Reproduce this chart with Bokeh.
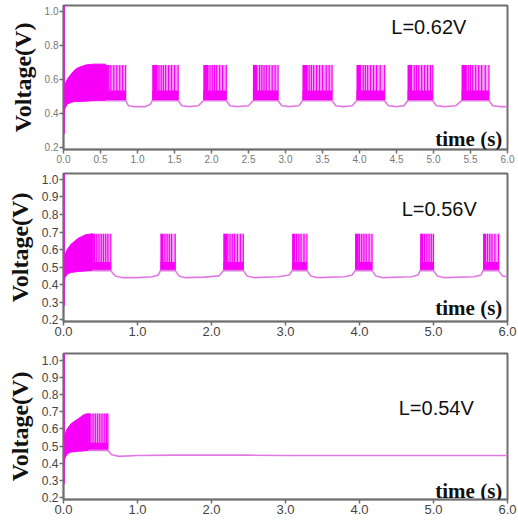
from bokeh.plotting import figure
from bokeh.layouts import column
from bokeh.models import Range1d, FixedTicker, Label, NumeralTickFormatter
from bokeh.embed import file_html
from bokeh.resources import INLINE

# ---------------- data ----------------
levels = ["L=0.62V", "L=0.56V", "L=0.54V"]

# Panel 1 : L = 0.62 V
p1_dense_t = [0.0, 0.02, 0.05, 0.10, 0.15, 0.20, 0.30, 0.40, 0.57]
p1_dense_hi = [0.52, 0.57, 0.60, 0.63, 0.655, 0.67, 0.685, 0.69, 0.69]
p1_dense_lo = [0.38, 0.43, 0.455, 0.465, 0.47, 0.47, 0.472, 0.475, 0.475]
p1_burst_start = [0.57, 1.20, 1.89, 2.56, 3.23, 3.96, 4.65, 5.38]
p1_burst_end = [0.84, 1.55, 2.20, 2.90, 3.63, 4.34, 4.99, 5.75]
p1_block_end = [0.60, 1.27, 1.96, 2.62, 3.30, 4.02, 4.71, 5.45]
p1_spikes = [0.58, 0.61, 0.64, 0.68, 0.72, 0.76, 0.80, 0.84,
             1.29, 1.32, 1.35, 1.38, 1.42, 1.46, 1.50, 1.55,
             1.98, 2.01, 2.04, 2.07, 2.11, 2.15, 2.20,
             2.65, 2.68, 2.71, 2.74, 2.78, 2.82, 2.86, 2.90,
             3.32, 3.35, 3.38, 3.42, 3.46, 3.50, 3.55, 3.59, 3.63,
             4.05, 4.08, 4.11, 4.15, 4.19, 4.23, 4.28, 4.34,
             4.74, 4.77, 4.80, 4.84, 4.88, 4.92, 4.96, 4.99,
             5.47, 5.50, 5.53, 5.57, 5.61, 5.65, 5.70, 5.75]
p1_base_t = [0.57, 0.84, 0.88, 0.95, 1.10, 1.17, 1.20, 1.55, 1.60, 1.70, 1.82, 1.89,
             2.20, 2.25, 2.35, 2.50, 2.56, 2.90, 2.95, 3.05, 3.18, 3.23, 3.63, 3.68,
             3.78, 3.90, 3.96, 4.34, 4.39, 4.50, 4.60, 4.65, 4.99, 5.04, 5.15, 5.30,
             5.38, 5.75, 5.80, 5.90, 6.00]
p1_base_v = [0.475, 0.475, 0.445, 0.44, 0.44, 0.452, 0.475, 0.475, 0.445, 0.44, 0.445, 0.475,
             0.475, 0.445, 0.44, 0.445, 0.475, 0.475, 0.445, 0.44, 0.445, 0.475, 0.475, 0.445,
             0.44, 0.445, 0.475, 0.475, 0.445, 0.44, 0.445, 0.475, 0.475, 0.445, 0.44, 0.445,
             0.475, 0.475, 0.445, 0.44, 0.44]

# Panel 2 : L = 0.56 V
p2_dense_t = [0.0, 0.02, 0.05, 0.10, 0.20, 0.30, 0.39]
p2_dense_hi = [0.54, 0.57, 0.60, 0.63, 0.665, 0.685, 0.69]
p2_dense_lo = [0.39, 0.44, 0.46, 0.47, 0.475, 0.478, 0.48]
p2_burst_start = [0.39, 1.31, 2.16, 3.09, 3.94, 4.82, 5.67]
p2_burst_end = [0.64, 1.51, 2.43, 3.29, 4.17, 5.00, 5.88]
p2_block_end = [0.41, 1.35, 2.21, 3.13, 3.99, 4.86, 5.71]
p2_spikes = [0.42, 0.45, 0.48, 0.51, 0.54, 0.57, 0.60, 0.64,
             1.37, 1.40, 1.43, 1.46, 1.51,
             2.22, 2.25, 2.28, 2.31, 2.35, 2.39, 2.43,
             3.15, 3.18, 3.21, 3.25, 3.29,
             4.00, 4.03, 4.06, 4.09, 4.13, 4.17,
             4.88, 4.91, 4.94, 4.97, 5.00,
             5.73, 5.76, 5.79, 5.83, 5.88]
p2_base_t = [0.39, 0.64, 0.70, 0.80, 1.00, 1.20, 1.28, 1.31, 1.51, 1.56, 1.65, 1.90,
             2.10, 2.16, 2.43, 2.48, 2.58, 2.90, 3.05, 3.09, 3.29, 3.34, 3.44, 3.80,
             3.90, 3.94, 4.17, 4.22, 4.32, 4.70, 4.79, 4.82, 5.00, 5.05, 5.15, 5.55,
             5.64, 5.67, 5.88, 5.93, 6.00]
p2_base_v = [0.48, 0.48, 0.45, 0.44, 0.44, 0.445, 0.455, 0.48, 0.48, 0.45, 0.44, 0.443,
             0.45, 0.48, 0.48, 0.45, 0.44, 0.445, 0.455, 0.48, 0.48, 0.45, 0.44, 0.445,
             0.455, 0.48, 0.48, 0.45, 0.44, 0.445, 0.455, 0.48, 0.48, 0.45, 0.44, 0.445,
             0.455, 0.48, 0.48, 0.45, 0.445]

# Panel 3 : L = 0.54 V
p3_dense_t = [0.0, 0.02, 0.05, 0.10, 0.20, 0.28, 0.34]
p3_dense_hi = [0.55, 0.57, 0.60, 0.63, 0.66, 0.685, 0.69]
p3_dense_lo = [0.39, 0.43, 0.455, 0.465, 0.47, 0.472, 0.475]
p3_burst_start = [0.34]
p3_burst_end = [0.60]
p3_block_end = [0.36]
p3_spikes = [0.37, 0.40, 0.43, 0.46, 0.49, 0.52, 0.55, 0.58, 0.60]
p3_base_t = [0.34, 0.60, 0.65, 0.75, 1.00, 1.50, 2.50, 3.00, 6.00]
p3_base_v = [0.475, 0.475, 0.45, 0.44, 0.445, 0.447, 0.447, 0.445, 0.445]

# onset transient (vertical line at the very start) and spike levels
onset_v = [0.28, 1.05]
spike_top = [0.685, 0.69, 0.69]
spike_bottom = [0.475, 0.48, 0.475]
band_top = [0.535, 0.53, 0.52]

# axis ticks
x_ticks_fine = [0.0, 0.5, 1.0, 1.5, 2.0, 2.5, 3.0, 3.5, 4.0, 4.5, 5.0, 5.5, 6.0]
x_ticks_coarse = [0.0, 1.0, 2.0, 3.0, 4.0, 5.0, 6.0]
y_ticks_coarse = [0.2, 0.4, 0.6, 0.8, 1.0]
y_ticks_fine = [0.2, 0.3, 0.4, 0.5, 0.6, 0.7, 0.8, 0.9, 1.0]

# ---------------- styling ----------------
MAG = "#f800f8"
LIGHT = "#f4a4f4"
BASE = "#e07ae0"
FRAME = "#6e6e6e"
W = 518


def panel(height, top_border, bottom_border, y0, y1, xticks, yticks, xfont, yfont, tick_color,
          dense_t, dense_hi, dense_lo, b_start, b_end, blk_end, spikes, base_t, base_v,
          s_lo, s_hi, band_hi, lvl, lvl_x, lvl_y, time_y):
    p = figure(width=W, height=height, output_backend="svg", toolbar_location=None,
               x_range=Range1d(0, 6), y_range=Range1d(y0, y1),
               min_border_left=63, min_border_right=11, min_border_top=top_border,
               min_border_bottom=bottom_border)
    p.xgrid.visible = False
    p.ygrid.visible = False
    p.outline_line_color = FRAME
    p.outline_line_width = 2
    p.background_fill_color = "white"

    # bursts: light fill, dark lower band, dense leading block, spikes
    p.quad(left=b_start, right=b_end, bottom=s_lo, top=s_hi,
           fill_color=LIGHT, line_color=None)
    p.quad(left=b_start, right=b_end, bottom=s_lo, top=band_hi,
           fill_color=MAG, line_color=None)
    p.quad(left=b_start, right=blk_end, bottom=s_lo, top=s_hi,
           fill_color=MAG, line_color=None)
    p.segment(x0=spikes, y0=s_lo, x1=spikes, y1=s_hi, line_color=MAG, line_width=1.2)

    # dense initial region
    xs = list(dense_t) + list(reversed(dense_t))
    ys = list(dense_hi) + list(reversed(dense_lo))
    p.patch(xs, ys, fill_color=MAG, line_color=MAG, line_width=1)

    # sub-threshold trace
    p.line(base_t, base_v, line_color=BASE, line_width=1.6)

    # onset transient
    p.segment(x0=[0.008], y0=[onset_v[0]], x1=[0.008], y1=[onset_v[1]],
              line_color=MAG, line_width=1.6)

    # axes
    p.xaxis.ticker = FixedTicker(ticks=xticks)
    p.yaxis.ticker = FixedTicker(ticks=yticks)
    p.xaxis.formatter = NumeralTickFormatter(format="0.0")
    p.yaxis.formatter = NumeralTickFormatter(format="0.0")
    for ax, fs in ((p.xaxis, xfont), (p.yaxis, yfont)):
        ax.axis_line_color = FRAME
        ax.axis_line_width = 1.5
        ax.major_tick_line_color = FRAME
        ax.major_tick_line_width = 1.5
        ax.major_tick_out = 4
        ax.major_tick_in = 0
        ax.minor_tick_line_color = None
        ax.major_label_text_font = "Liberation Sans"
        ax.major_label_text_font_size = fs
        ax.major_label_text_color = tick_color
        ax.major_label_standoff = 1
    p.yaxis.axis_label = "Voltage(V)"
    p.yaxis.axis_label_text_font = "Liberation Serif"
    p.yaxis.axis_label_text_font_style = "bold"
    p.yaxis.axis_label_text_font_size = "24px"
    p.yaxis.axis_label_text_color = "#111111"
    p.yaxis.axis_label_standoff = 6

    p.add_layout(Label(x=lvl_x, y=lvl_y, text=lvl, text_font="Liberation Sans",
                       text_font_size="20px", text_color="#111111",
                       text_baseline="middle", text_align="left"))
    p.add_layout(Label(x=5.93, y=time_y, text="time (s)", text_font="Liberation Serif",
                       text_font_style="bold", text_font_size="21px", text_color="#111111",
                       text_baseline="middle", text_align="right"))
    return p


f1 = panel(169, 5, 20, 0.188, 1.035, x_ticks_fine, y_ticks_coarse, "10px", "10px", "#777777",
           p1_dense_t, p1_dense_hi, p1_dense_lo, p1_burst_start, p1_burst_end, p1_block_end,
           p1_spikes, p1_base_t, p1_base_v, spike_bottom[0], spike_top[0], band_top[0],
           levels[0], 4.43, 0.906, 0.25)
f2 = panel(172, 4, 20, 0.19, 1.034, x_ticks_coarse, y_ticks_fine, "13px", "12px", "#444444",
           p2_dense_t, p2_dense_hi, p2_dense_lo, p2_burst_start, p2_burst_end, p2_block_end,
           p2_spikes, p2_base_t, p2_base_v, spike_bottom[1], spike_top[1], band_top[1],
           levels[1], 4.57, 0.834, 0.265)
f3 = panel(185, 12, 27, 0.188, 1.041, x_ticks_coarse, y_ticks_fine, "13px", "12px", "#444444",
           p3_dense_t, p3_dense_hi, p3_dense_lo, p3_burst_start, p3_burst_end, p3_block_end,
           p3_spikes, p3_base_t, p3_base_v, spike_bottom[2], spike_top[2], band_top[2],
           levels[2], 4.53, 0.72, 0.24)

layout = column(f1, f2, f3, spacing=0)
open("out.html", "w").write(file_html(layout, INLINE))
